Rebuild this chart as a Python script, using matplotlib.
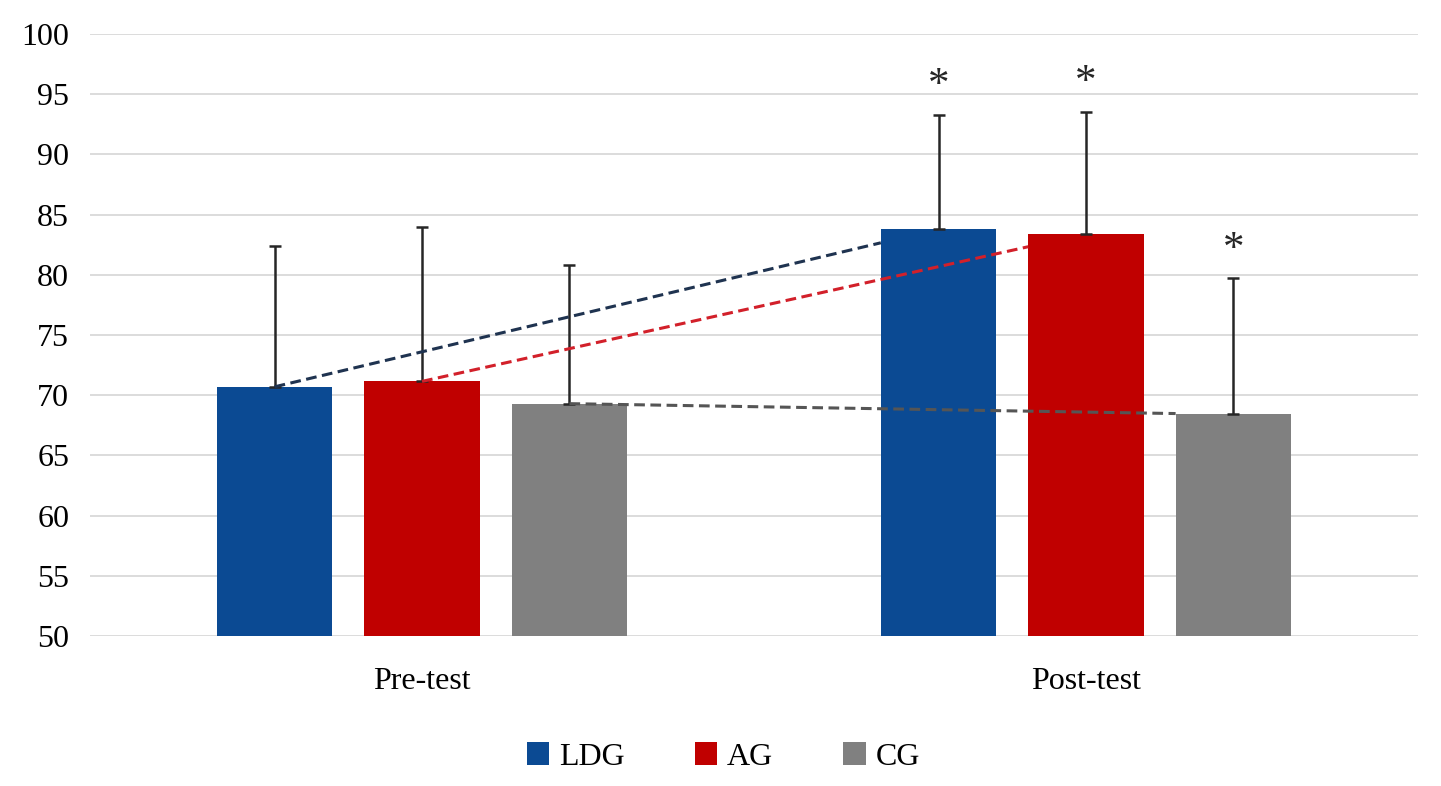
import numpy as np
import matplotlib
matplotlib.use("Agg")
import matplotlib.pyplot as plt

categories = ["Pre-test", "Post-test"]
groups = ["LDG", "AG", "CG"]
means = {
    "LDG": [70.7, 83.8],
    "AG": [71.15, 83.4],
    "CG": [69.3, 68.4],
}
sds = {
    "LDG": [11.7, 9.5],
    "AG": [12.85, 10.15],
    "CG": [11.55, 11.3],
}
significant = {
    "LDG": [False, True],
    "AG": [False, True],
    "CG": [False, True],
}
yticks = [50, 55, 60, 65, 70, 75, 80, 85, 90, 95, 100]

bar_colors = {"LDG": "#0b4a93", "AG": "#c00000", "CG": "#808080"}
line_colors = {"LDG": "#1f3350", "AG": "#d2202a", "CG": "#555555"}

plt.rcParams["font.family"] = ["Liberation Serif", "DejaVu Serif"]

fig = plt.figure(figsize=(14.41, 7.86), dpi=100)
ax = fig.add_axes([0.0625, 0.1908, 0.9215, 0.7659])

x = np.arange(len(categories))
width = 0.174
step = 0.222
offsets = {"LDG": -step, "AG": 0.0, "CG": step}

for g in groups:
    xs = x + offsets[g]
    ax.bar(xs, np.array(means[g]) - 50, bottom=50, width=width,
           color=bar_colors[g], label=g, zorder=2)
    ax.errorbar(xs, means[g], yerr=[np.zeros(len(xs)), sds[g]], fmt="none",
                ecolor="#262626", elinewidth=1.8, capsize=4, capthick=1.8, zorder=3)
    for xi, m, s, sig in zip(xs, means[g], sds[g], significant[g]):
        if sig:
            ax.text(xi, m + s + 2.4, "*", ha="center", va="center",
                    fontsize=31, color="#262626", zorder=5)

# dashed connector lines (pre centre -> post bar left edge)
for g in groups:
    x0 = x[0] + offsets[g]
    x1c = x[1] + offsets[g]
    y0, y1 = means[g]
    x_end = x1c - width / 2
    y_end = y0 + (y1 - y0) * (x_end - x0) / (x1c - x0)
    ax.plot([x0, x_end], [y0, y_end], linestyle=(0, (3.5, 1.8)),
            color=line_colors[g], linewidth=2.2, zorder=4)

ax.set_xlim(-0.5, 1.5)
ax.set_ylim(50, 100)
ax.set_yticks(yticks)
ax.set_xticks(x)
ax.set_xticklabels(categories, fontsize=23)
ax.tick_params(axis="y", labelsize=23, length=0, pad=15)
ax.tick_params(axis="x", length=0, pad=22)
ax.yaxis.grid(True, color="#d9d9d9", linewidth=1.3, zorder=0)
ax.set_axisbelow(True)
for sp in ax.spines.values():
    sp.set_visible(False)

leg = fig.legend(loc="center", bbox_to_anchor=(0.502, 0.037), ncol=3, frameon=False,
                 fontsize=23, handlelength=0.7, handleheight=0.7,
                 handletextpad=0.3, columnspacing=2.2)

fig.savefig("out.png", dpi=100, facecolor="white")
